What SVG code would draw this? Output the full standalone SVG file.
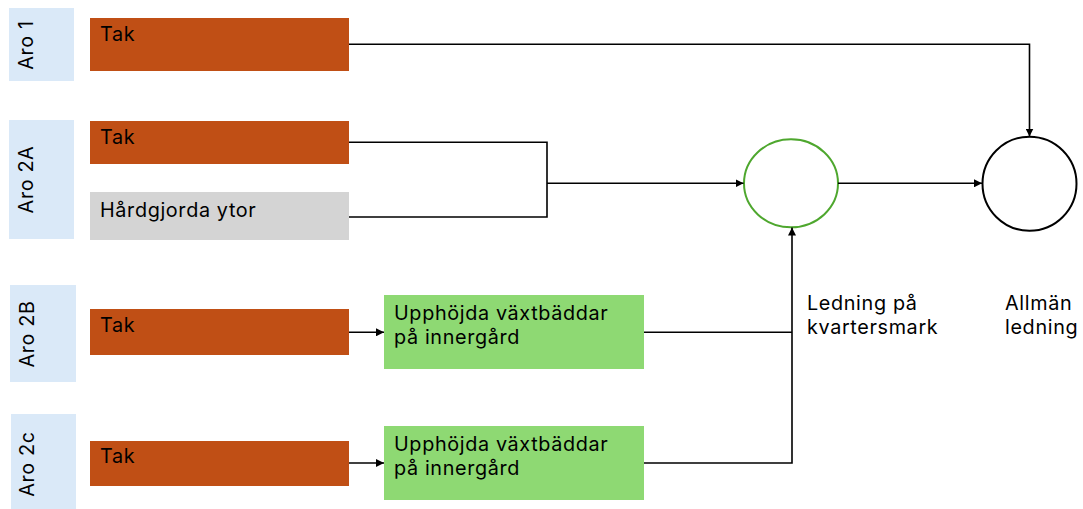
<svg xmlns="http://www.w3.org/2000/svg" width="1083" height="509" viewBox="0 0 1083 509">
  <style>
    text { font-family: Inter, "Open Sans", "Liberation Sans", sans-serif; font-size: 19.8px; letter-spacing: 0.65px; fill: #000; }
    .aro { fill: #dae9f8; }
    .roof { fill: #c04f15; }
    .paved { fill: #d4d4d4; }
    .bed { fill: #8ed973; }
    .link { fill: none; stroke: #000; stroke-width: 1.6; }
    .rot { text-anchor: middle; }
  </style>
  <defs>
    <marker id="arrow" viewBox="0 0 10 10" refX="10" refY="5" markerWidth="8" markerHeight="8" markerUnits="userSpaceOnUse" orient="auto">
      <path d="M0,0 L10,5 L0,10 Z" fill="#000"/>
    </marker>
  </defs>

  <rect width="1083" height="509" fill="#fff"/>

  <!-- row labels -->
  <g id="aro1">
    <rect class="aro" x="9" y="8" width="65" height="73"/>
    <text class="rot" transform="translate(33,45) rotate(-90)">Aro 1</text>
  </g>
  <g id="aro2a">
    <rect class="aro" x="9" y="120" width="65" height="119"/>
    <text class="rot" transform="translate(33,179.5) rotate(-90)">Aro 2A</text>
  </g>
  <g id="aro2b">
    <rect class="aro" x="10" y="285" width="66" height="97"/>
    <text class="rot" transform="translate(34,334) rotate(-90)">Aro 2B</text>
  </g>
  <g id="aro2c">
    <rect class="aro" x="11" y="414" width="65" height="95"/>
    <text class="rot" transform="translate(34,464) rotate(-90)">Aro 2c</text>
  </g>

  <!-- surfaces -->
  <g id="tak-aro1">
    <rect class="roof" x="90" y="18" width="259" height="53"/>
    <text x="100" y="41">Tak</text>
  </g>
  <g id="tak-aro2a">
    <rect class="roof" x="90" y="121" width="259" height="43"/>
    <text x="100" y="144">Tak</text>
  </g>
  <g id="hardgjorda-aro2a">
    <rect class="paved" x="90" y="192" width="259" height="48"/>
    <text x="100" y="217">Hårdgjorda ytor</text>
  </g>
  <g id="tak-aro2b">
    <rect class="roof" x="90" y="309" width="259" height="46"/>
    <text x="100" y="332">Tak</text>
  </g>
  <g id="tak-aro2c">
    <rect class="roof" x="90" y="441" width="259" height="45"/>
    <text x="100" y="463">Tak</text>
  </g>

  <!-- raised beds -->
  <g id="bed-aro2b">
    <rect class="bed" x="384" y="295" width="260" height="74"/>
    <text x="394" y="320">Upphöjda växtbäddar</text>
    <text x="394" y="344">på innergård</text>
  </g>
  <g id="bed-aro2c">
    <rect class="bed" x="384" y="426" width="260" height="74"/>
    <text x="394" y="451">Upphöjda växtbäddar</text>
    <text x="394" y="475">på innergård</text>
  </g>

  <!-- pipes -->
  <g id="ledning-kvartersmark">
    <ellipse cx="791" cy="183.3" rx="47" ry="44" fill="#fff" stroke="#4ea72e" stroke-width="2"/>
    <text x="807" y="310">Ledning på</text>
    <text x="807" y="334">kvartersmark</text>
  </g>
  <g id="allman-ledning">
    <circle cx="1029.5" cy="183.7" r="47" fill="#fff" stroke="#000" stroke-width="2"/>
    <text x="1005" y="310">Allmän</text>
    <text x="1005" y="334">ledning</text>
  </g>

  <!-- connectors -->
  <g id="connectors">
    <path class="link" d="M349,44.3 H1029.5 V136.5" marker-end="url(#arrow)"/>
    <path class="link" d="M349,142.3 H547 V217 H349"/>
    <path class="link" d="M547,183.3 H743.5" marker-end="url(#arrow)"/>
    <path class="link" d="M838,183.3 H982" marker-end="url(#arrow)"/>
    <path class="link" d="M349,332.3 H384" marker-end="url(#arrow)"/>
    <path class="link" d="M349,463 H384" marker-end="url(#arrow)"/>
    <path class="link" d="M644,332.3 H792"/>
    <path class="link" d="M644,463 H792 V227.5" marker-end="url(#arrow)"/>
  </g>
</svg>
